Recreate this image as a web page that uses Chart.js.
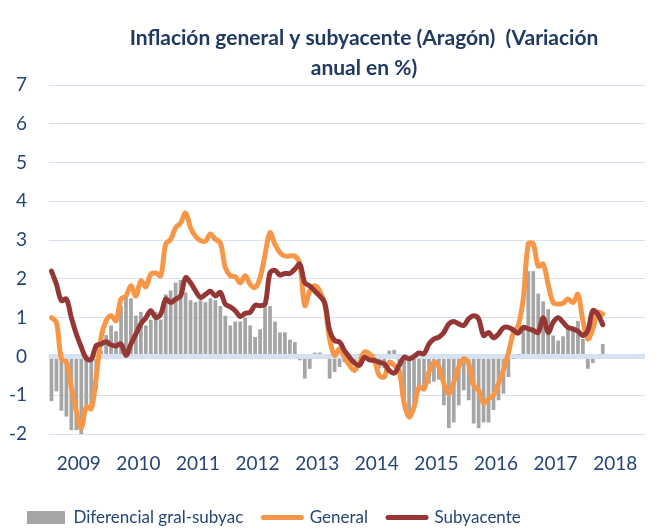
<!DOCTYPE html>
<html>
<head>
<meta charset="utf-8">
<script src="https://cdn.jsdelivr.net/npm/chart.js@4/dist/chart.umd.min.js"></script>
<style>
html, body { margin: 0; padding: 0; background: #fff; }
</style>
</head>
<body>
<canvas id="idCanvas" width="659" height="529"></canvas>
<script>
// datos mensuales ene 2009 - abr 2018
const years = ['2009', '2010', '2011', '2012', '2013', '2014', '2015', '2016', '2017', '2018'];
const months = ['ene', 'feb', 'mar', 'abr', 'may', 'jun', 'jul', 'ago', 'sep', 'oct', 'nov', 'dic'];
const seriesNames = ['Diferencial gral-subyac', 'General', 'Subyacente'];
const titleLines = ['Inflación general y subyacente (Aragón)  (Variación', 'anual en %)'];

const general = [
  1.0, 0.88, -0.06, -0.15, -0.8, -1.4, -1.85, -1.3, -1.35, -0.55, 0.5, 0.92,
  1.05, 0.92, 1.48, 1.56, 1.82, 1.56, 1.95, 1.8, 2.12, 2.15, 2.08, 2.9,
  3.02, 3.32, 3.44, 3.7, 3.32, 3.1, 2.99, 2.97, 3.16, 3.02, 2.93, 2.29,
  2.08, 2.06, 1.9, 2.08, 1.86, 1.78, 2.03, 2.63, 3.19, 2.89, 2.68, 2.59,
  2.59, 2.59, 2.38, 1.31, 1.69, 1.82, 1.69, 1.35, 0.45, 0.03, 0.2, -0.02,
  -0.23, -0.36, -0.15, 0.11, 0.07, -0.1, -0.49, -0.53, -0.15, -0.23, -0.36, -1.2,
  -1.56, -1.3, -0.79, -0.83, -0.4, -0.15, -0.27, -0.7, -0.96, -0.66, -0.27, -0.06,
  -0.19, -0.74, -0.87, -1.2, -1.09, -1.0, -0.7, -0.35, 0.1, 0.6, 0.8, 1.5,
  2.9, 2.9, 2.33, 2.38, 1.86, 1.39, 1.35, 1.37, 1.48, 1.39, 1.6, 0.92,
  0.45, 0.71, 1.14, 1.09
];

const subyacente = [
  2.2, 1.86, 1.44, 1.48, 1.0, 0.58, 0.24, -0.05, -0.08, 0.28, 0.32, 0.38,
  0.3, 0.27, 0.32, 0.03, 0.32, 0.58, 0.84, 1.0, 1.18, 1.0, 1.09, 1.48,
  1.39, 1.48, 1.56, 2.03, 1.9, 1.69, 1.52, 1.6, 1.68, 1.56, 1.65, 1.35,
  1.28, 1.18, 1.03, 1.11, 1.14, 1.32, 1.31, 1.35, 2.16, 2.22, 2.1, 2.14,
  2.14, 2.25, 2.38, 1.9, 1.82, 1.69, 1.56, 1.39, 0.67, 0.41, 0.37, 0.15,
  -0.02, -0.17, -0.23, -0.02, -0.09, -0.1, -0.15, -0.19, -0.36, -0.43, -0.23, -0.02,
  -0.06, 0.0, 0.09, 0.07, 0.32, 0.45, 0.5, 0.62, 0.84, 0.9, 0.84, 0.8,
  0.97, 1.05, 0.97, 0.54, 0.62, 0.48, 0.58, 0.74, 0.75, 0.68, 0.6, 0.75,
  0.71, 0.67, 0.62, 1.0, 0.62, 0.88, 1.0, 0.88, 0.75, 0.71, 0.65, 0.54,
  0.68, 1.18, 1.09, 0.82
];

const diferencial = [
  -1.15, -0.9, -1.4, -1.55, -1.9, -1.9, -2.05, -1.3, -1.35, -0.85, 0.15, 0.55,
  0.8, 0.65, 1.3, 1.55, 1.5, 1.05, 1.15, 0.8, 0.95, 1.15, 0.95, 1.6,
  1.7, 1.9, 1.97, 1.65, 1.45, 1.4, 1.45, 1.4, 1.5, 1.45, 1.3, 1.05,
  0.8, 0.9, 0.9, 1.0, 0.8, 0.5, 0.7, 1.28, 1.3, 0.9, 0.62, 0.62,
  0.43, 0.37, -0.1, -0.57, -0.32, 0.1, 0.1, 0.0, -0.57, -0.4, -0.27, -0.15,
  -0.2, -0.2, 0.05, 0.1, 0.1, 0.05, -0.3, -0.3, 0.15, 0.17, -0.15, -1.2,
  -1.5, -1.3, -0.85, -0.9, -0.7, -0.65, -0.6, -1.26, -1.85, -1.7, -1.26, -0.87,
  -1.13, -1.73, -1.85, -1.7, -1.7, -1.38, -1.13, -0.96, -0.53, -0.05, 0.05, 0.7,
  2.2, 2.2, 1.62, 1.42, 1.22, 0.54, 0.41, 0.52, 0.72, 0.75, 0.92, 0.45,
  -0.32, -0.17, 0.0, 0.32
];

const etiquetas = years.flatMap(a => months.map(m => m + ' ' + a));

const azul = '#254577';
const grigliaColor = '#D6E2F1';

const titolo = {
  id: 'titolo',
  afterDraw(chart) {
    const c = chart.ctx;
    c.save();
    c.font = 'bold 21px Lato';
    c.fillStyle = '#1F3864';
    c.textAlign = 'center';
    c.fillText(titleLines[0], 364, 38);
    c.fillText(titleLines[1], 364, 68);
    c.restore();
  }
};

function creaGrafico() {
  let ctx = document.getElementById('idCanvas').getContext('2d');
  let myChart = new Chart(ctx, {
    type: 'bar',
    data: {
      labels: etiquetas,
      datasets: [
        {
          type: 'bar',
          label: seriesNames[0],
          data: diferencial,
          backgroundColor: '#A5A5A5',
          barPercentage: 0.75,
          categoryPercentage: 1,
          order: 3
        },
        {
          type: 'line',
          label: seriesNames[1],
          data: general,
          borderColor: '#F79646',
          backgroundColor: '#F79646',
          borderWidth: 5,
          pointRadius: 0,
          tension: 0.35,
          borderCapStyle: 'round',
          borderJoinStyle: 'round',
          order: 2
        },
        {
          type: 'line',
          label: seriesNames[2],
          data: subyacente,
          borderColor: '#953735',
          backgroundColor: '#953735',
          borderWidth: 5,
          pointRadius: 0,
          tension: 0.35,
          borderCapStyle: 'round',
          borderJoinStyle: 'round',
          order: 1
        }
      ]
    },
    options: {
      responsive: false,
      animation: false,
      layout: { padding: { top: 85, left: 7, right: 14, bottom: 0 } },
      plugins: {
        title: { display: false },
        tooltip: { enabled: false },
        legend: {
          position: 'bottom',
          align: 'start',
          maxHeight: 40,
          labels: {
            usePointStyle: true,
            pointStyleWidth: 38,
            boxHeight: 13,
            padding: 20,
            color: azul,
            font: { family: 'Lato', size: 17 },
            sort: (a, b) => a.datasetIndex - b.datasetIndex,
            generateLabels(chart) {
              const items = Chart.defaults.plugins.legend.labels.generateLabels(chart);
              items.forEach(it => {
                const ds = chart.data.datasets[it.datasetIndex];
                if (ds.type === 'line') {
                  it.pointStyle = 'line';
                  it.lineWidth = 5;
                  it.lineCap = 'round';
                  it.strokeStyle = ds.borderColor;
                } else {
                  it.pointStyle = 'rect';
                  it.lineWidth = 0;
                  it.fillStyle = ds.backgroundColor;
                }
              });
              return items;
            }
          }
        }
      },
      scales: {
        x: { display: false, offset: true },
        anni: {
          type: 'category',
          labels: years,
          position: 'bottom',
          offset: true,
          grid: { display: false, drawTicks: false },
          border: { display: false },
          ticks: { color: azul, font: { family: 'Lato', size: 19 }, padding: 18, autoSkip: false, maxRotation: 0 },
          afterFit(s) { s.height = 55; }
        },
        y: {
          min: -2,
          max: 7,
          ticks: { stepSize: 1, color: azul, font: { family: 'Lato', size: 19 }, padding: 22 },
          grid: {
            color: grigliaColor,
            lineWidth: c => (c.tick && c.tick.value === 0 ? 5 : 1),
            drawTicks: false
          },
          border: { display: false },
          afterFit(s) { s.width = 42; }
        }
      }
    },
    plugins: [titolo]
  });
}

creaGrafico();
</script>
</body>
</html>
